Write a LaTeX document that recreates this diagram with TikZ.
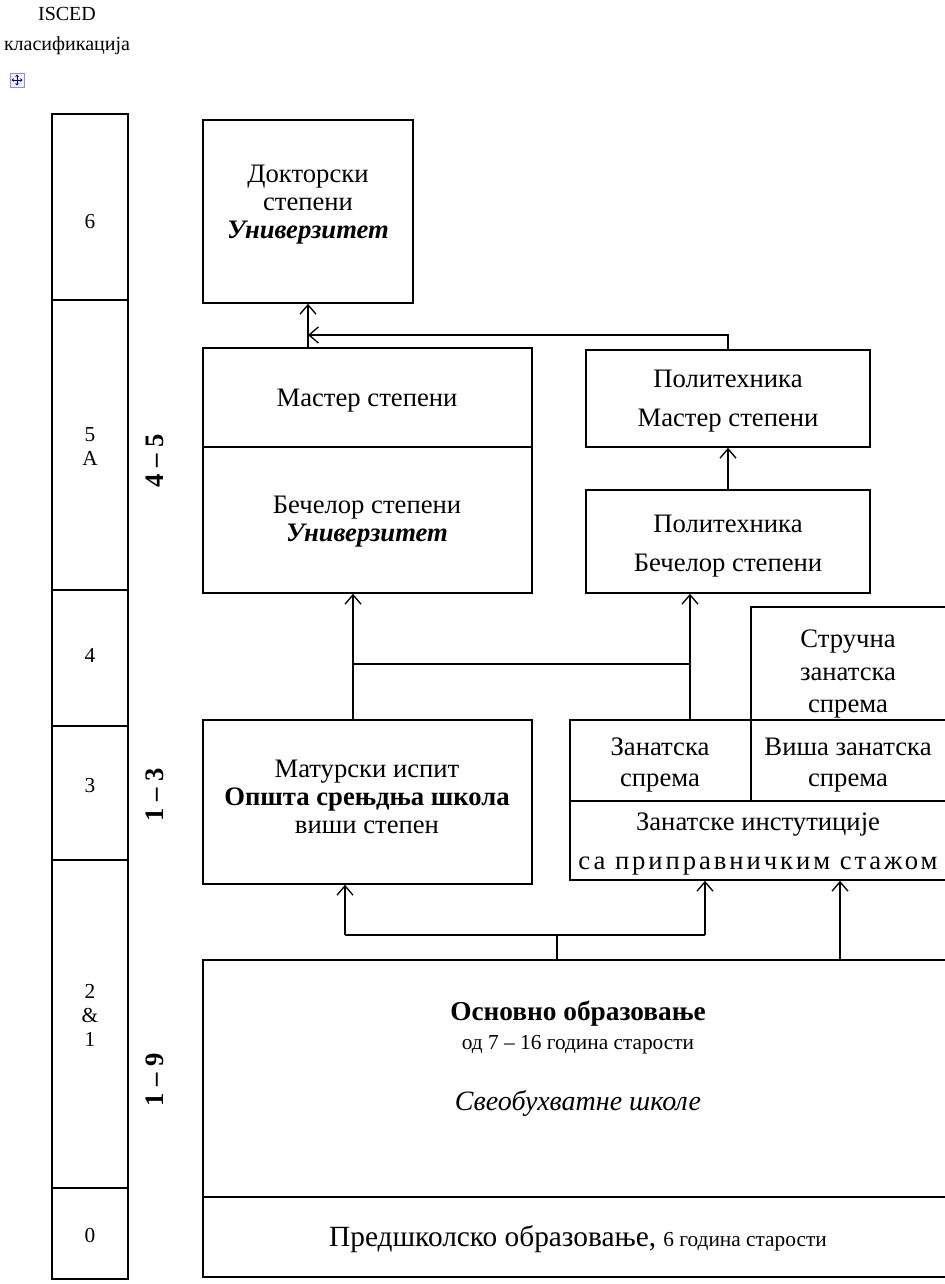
\documentclass[tikz,border=0pt]{standalone}
\usepackage{fontspec}
\setmainfont{Liberation Serif}
\usetikzlibrary{arrows.meta,fit}
\newcommand\txtmain{\fontsize{20}{21}\selectfont}
\newcommand\txtsmall{\fontsize{16}{18}\selectfont}
\newcommand\txtlevel{\fontsize{16}{18}\selectfont}
\begin{document}
\begin{tikzpicture}[x=0.75pt,y=-0.75pt,
  frame/.style={draw, line width=1.2pt, inner sep=0pt},
  lvl/.style={frame},
  lvltxt/.style={align=center, inner sep=0pt, font=\txtlevel},
  lbl/.style={align=center, inner sep=0pt, font=\txtmain},
  yrs/.style={rotate=90, font=\fontsize{20}{22}\selectfont\bfseries, inner sep=0pt},
  link/.style={line width=1.2pt},
  arr/.style={link, -{Straight Barb[length=7pt,width=12pt,line width=1pt]}}]
\useasboundingbox (0,0) rectangle (945,1284);
\clip (0,0) rectangle (945,1284);

% heading of the level column
\node[font=\fontsize{15}{22}\selectfont, align=center, inner sep=0pt] (head) at (67,31)
  {ISCED\\класификација};
% table move handle
\node[draw=blue!45, fill=blue!6, line width=0.6pt, minimum size=10.5pt, inner sep=0pt] (handle) at (17,80) {};
\foreach \dx/\dy in {0/-5.5, 0/5.5, -5.5/0, 5.5/0}
  \draw[blue!60!black, line width=0.6pt, -{Stealth[length=1.8pt,width=2.6pt]}] (handle.center) -- ++(\dx,\dy);

% ISCED level column
\node[lvl, fit={(52,114)(128,300)}] (l6) {};
\node[lvl, fit={(52,300)(128,590)}] (l5) {};
\node[lvl, fit={(52,590)(128,726)}] (l4) {};
\node[lvl, fit={(52,726)(128,860)}] (l3) {};
\node[lvl, fit={(52,860)(128,1188)}] (l21) {};
\node[lvl, fit={(52,1188)(128,1279)}] (l0) {};
\node[lvltxt] (l6txt) at (90,222) {6};
\node[lvltxt] (l5txt) at (90,447) {5\\A};
\node[lvltxt] (l4txt) at (90,655) {4};
\node[lvltxt] (l3txt) at (90,786) {3};
\node[lvltxt] (l21txt) at (90,1015) {2\\\&\\1};
\node[lvltxt] (l0txt) at (90,1235) {0};

% years of study
\node[yrs] (y45) at (155,461) {4 – 5};
\node[yrs] (y13) at (155,795) {1 – 3};
\node[yrs] (y19) at (155,1080) {1 – 9};

% boxes
\node[frame, fit={(203,120)(413,303)}] (doc) {};
\node[frame, fit={(203,348)(532,447)}] (umast) {};
\node[frame, fit={(203,447)(532,593)}] (ubach) {};
\node[frame, fit={(586,350)(870,447)}] (pmast) {};
\node[frame, fit={(586,490)(870,593)}] (pbach) {};
\node[frame, fit={(203,720)(532,884)}] (matur) {};
\node[frame, fit={(751,607)(948,720)}] (struc) {};
\node[frame, fit={(570,720)(751,801)}] (zan) {};
\node[frame, fit={(751,720)(948,801)}] (visa) {};
\node[frame, fit={(570,801)(948,880)}] (inst) {};
\node[frame, fit={(203,960)(948,1197)}] (osn) {};
\node[frame, fit={(203,1197)(948,1277)}] (pre) {};

% box texts
\node[lbl] (doctxt) at (308,205) {Докторски\\степени\\\textbf{\textit{Универзитет}}};
\node[lbl] (umasttxt) at (367,401) {Мастер степени};
\node[lbl] (ubachtxt) at (367,522) {Бечелор степени\\\textbf{\textit{Универзитет}}};
\node[lbl] (pmasttxt) at (728,401) {Политехника\\[8pt]Мастер степени};
\node[lbl] (pbachtxt) at (728,546) {Политехника\\[8pt]Бечелор степени};
\node[lbl] (maturtxt) at (367,797) {Матурски испит\\\textbf{Општа срењдња школа}\\виши степен};
\node[lbl] (structxt) at (848,674) {Стручна\\[4pt]занатска\\[3pt]спрема};
\node[lbl] (zantxt) at (660,765) {Занатска\\[2pt]спрема};
\node[lbl] (visatxt) at (848,765) {Виша занатска\\[2pt]спрема};
\node[lbl] (insttxt) at (758,844) {Занатске инстутиције\\[8pt]{\addfontfeature{LetterSpace=11}са приправничким стажом}};
\node[lbl, font=\fontsize{20.5}{22}\selectfont\bfseries] (osnhead) at (578,1014) {Основно образовање};
\node[lbl, font=\txtsmall] (osnage) at (578,1045) {од 7 – 16 година старости};
\node[lbl, font=\fontsize{21}{22}\selectfont\itshape] (osnkind) at (578,1103) {Свеобухватне школе};
\node[lbl, font=\fontsize{22}{24}\selectfont] (pretxt) at (578,1239) {Предшколско образовање, {\txtsmall 6 година старости}};

% connectors between the upper levels
\draw[arr] (doc.south |- umast.north) -- (doc.south);
\draw[arr] (pmast.north) |- (doc.south |- 0,335);
\draw[arr] (pbach.north) -- (pmast.south);

\coordinate (jl) at (353,664);
\coordinate (jr) at (690,664);
\draw[link] (jl) -- (jr);
\draw[arr] (matur.north -| jl) -- (ubach.south -| jl);
\draw[arr] (zan.north -| jr) -- (pbach.south -| jr);

% connectors from basic education
\coordinate (bl) at (345,935);
\coordinate (br) at (705,935);
\coordinate (bm) at (557,935);
\draw[link] (bl) -- (br);
\draw[link] (osn.north -| bm) -- (bm);
\draw[arr] (bl) -- (matur.south -| bl);
\draw[arr] (br) -- (inst.south -| br);
\draw[arr] (osn.north -| 840,0) -- (inst.south -| 840,0);
\end{tikzpicture}
\end{document}
